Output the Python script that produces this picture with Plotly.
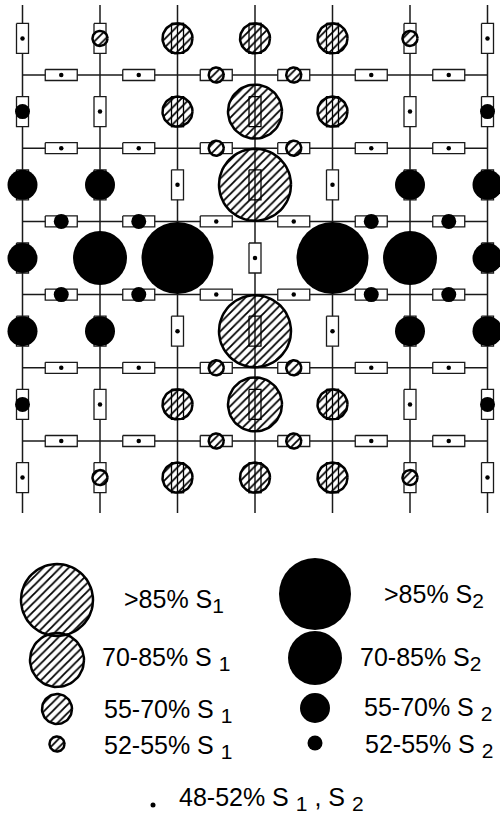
import numpy as np
import plotly.graph_objects as go

# ---- data: state of every bond in the lattice ----
# "d" = 48-52% (dot), "h52".."h85" = S1 (hatched), "f52".."f85" = S2 (filled)
vert_states = [
    ["d", "h52", "h55", "h55", "h55", "h52", "d"],
    ["f52", "d", "h55", "h70", "h55", "d", "f52"],
    ["f55", "f55", "d", "h85", "d", "f55", "f55"],
    ["f55", "f70", "f85", "d", "f85", "f70", "f55"],
    ["f55", "f55", "d", "h85", "d", "f55", "f55"],
    ["f52", "d", "h55", "h70", "h55", "d", "f52"],
    ["d", "h52", "h55", "h55", "h55", "h52", "d"],
]
horiz_states = [
    ["d", "d", "h52", "h52", "d", "d"],
    ["d", "d", "h52", "h52", "d", "d"],
    ["f52", "f52", "d", "d", "f52", "f52"],
    ["f52", "f52", "d", "d", "f52", "f52"],
    ["d", "d", "h52", "h52", "d", "d"],
    ["d", "d", "h52", "h52", "d", "d"],
]
legend_s1 = ["h85", "h70", "h55", "h52"]
legend_s2 = ["f85", "f70", "f55", "f52"]
SUB = "<sub><span style='font-size:21px'>%s</span></sub>"
legend_s1_labels = [">85% S" + SUB % "1", "70-85% S " + SUB % "1",
                    "55-70% S " + SUB % "1", "52-55% S " + SUB % "1"]
legend_s2_labels = [">85% S" + SUB % "2", "70-85% S" + SUB % "2",
                    "55-70% S " + SUB % "2", "52-55% S " + SUB % "2"]
legend_dot_label = "48-52% S " + SUB % "1" + " , S " + SUB % "2"

# ---- layout / geometry ----
X0, DX = 22.5, 77.5
Y0, DY = 75.0, 73.2
NV = 7   # vertical lines
NH = 6   # horizontal lines
RADIUS = {"52": 7.5, "55": 15, "70": 27, "85": 36}
VR = (6, 15)     # vertical rect half sizes
HR = (16, 5.5)   # horizontal rect half sizes
INK = "#000000"

theta = np.linspace(0, 2 * np.pi, 73)


def circle(cx, cy, r):
    return list(cx + r * np.cos(theta)) + [None], list(cy + r * np.sin(theta)) + [None]


def rect(cx, cy, hw, hh):
    return ([cx - hw, cx + hw, cx + hw, cx - hw, cx - hw, None],
            [cy - hh, cy - hh, cy + hh, cy + hh, cy - hh, None])


bonds = []  # (cx, cy, state, halfsizes)
for r, row in enumerate(vert_states):
    for c, s in enumerate(row):
        bonds.append((X0 + c * DX, Y0 + (r - 0.5) * DY, s, VR))
for r, row in enumerate(horiz_states):
    for c, s in enumerate(row):
        bonds.append((X0 + (c + 0.5) * DX, Y0 + r * DY, s, HR))

fig = go.Figure()

# lattice lines
lx, ly = [], []
ytop, ybot = 5, 513
for i in range(NV):
    x = X0 + i * DX
    lx += [x, x, None]
    ly += [ytop, ybot, None]
for j in range(NH):
    y = Y0 + j * DY
    lx += [X0, X0 + (NV - 1) * DX, None]
    ly += [y, y, None]
fig.add_trace(go.Scatter(x=lx, y=ly, mode="lines", line=dict(color="#1a1a1a", width=1.5), hoverinfo="skip"))

# rectangles
rx, ry = [], []
for cx, cy, s, (hw, hh) in bonds:
    a, b = rect(cx, cy, hw, hh)
    rx += a
    ry += b
fig.add_trace(go.Scatter(x=rx, y=ry, mode="lines", fill="toself", fillcolor="white",
                         line=dict(color="#1a1a1a", width=1.3), hoverinfo="skip"))

# dots
dx_ = [b[0] for b in bonds if b[2] == "d"]
dy_ = [b[1] for b in bonds if b[2] == "d"]
fig.add_trace(go.Scatter(x=dx_, y=dy_, mode="markers",
                         marker=dict(color=INK, size=4.5, opacity=1), hoverinfo="skip"))


# hatched circles (S1)
def hatched(points):
    hx, hy = [], []
    for cx, cy, r in points:
        a, b = circle(cx, cy, r)
        hx += a
        hy += b
    fig.add_trace(go.Scatter(x=hx, y=hy, mode="lines", fill="toself",
                             fillpattern=dict(shape="/", fgcolor=INK, bgcolor="white", size=6,
                                              solidity=0.3, fgopacity=1),
                             fillcolor="white",
                             line=dict(color=INK, width=2.5), hoverinfo="skip"))


hatched([(cx, cy, RADIUS[s[1:]]) for cx, cy, s, _ in bonds if s.startswith("h")])

# rect outlines visible through larger hatched circles
ox, oy = [], []
for cx, cy, s, (hw, hh) in bonds:
    if s.startswith("h") and s != "h52":
        a, b = rect(cx, cy, hw, hh)
        ox += a
        oy += b
        ox += [cx, cx, None]
        oy += [cy - RADIUS[s[1:]], cy + RADIUS[s[1:]], None]
fig.add_trace(go.Scatter(x=ox, y=oy, mode="lines", line=dict(color=INK, width=1.3), hoverinfo="skip"))

# filled circles (S2)
fx = [b[0] for b in bonds if b[2].startswith("f")]
fy = [b[1] for b in bonds if b[2].startswith("f")]
fs = [2 * RADIUS[b[2][1:]] for b in bonds if b[2].startswith("f")]
fig.add_trace(go.Scatter(x=fx, y=fy, mode="markers",
                         marker=dict(color=INK, size=fs, sizemode="diameter", opacity=1, line=dict(width=0)),
                         hoverinfo="skip"))

# ---- legend (drawn in the plot area) ----
LEG_Y1 = [600, 660, 709, 744]
LEG_Y2 = [594, 658, 708, 743]
L1X, L2X = 57, 315
T1X = [122, 100, 102, 102]
T2X = [382, 358, 362, 363]
hatched([(L1X, y, RADIUS[s[1:]]) for y, s in zip(LEG_Y1, legend_s1)])
fig.add_trace(go.Scatter(x=[L2X] * 4, y=LEG_Y2, mode="markers",
                         marker=dict(color=INK, opacity=1, size=[2 * RADIUS[s[1:]] for s in legend_s2],
                                     line=dict(width=0)),
                         hoverinfo="skip"))
fig.add_trace(go.Scatter(x=[153], y=[805], mode="markers", marker=dict(color=INK, size=5, opacity=1),
                         hoverinfo="skip"))

font = dict(family="Liberation Sans, Arial, sans-serif", size=25, color=INK)
TY1 = [601, 659, 711, 747]
TY2 = [596, 659, 709, 746]
for y, t, x in zip(TY1, legend_s1_labels, T1X):
    fig.add_annotation(x=x, y=y, text=t, showarrow=False, xanchor="left", yanchor="middle", font=font)
for y, t, x in zip(TY2, legend_s2_labels, T2X):
    fig.add_annotation(x=x, y=y, text=t, showarrow=False, xanchor="left", yanchor="middle", font=font)
fig.add_annotation(x=177, y=799, text=legend_dot_label, showarrow=False, xanchor="left", yanchor="middle",
                   font=font)

fig.update_layout(
    width=500, height=820, margin=dict(l=0, r=0, t=0, b=0),
    paper_bgcolor="white", plot_bgcolor="white", showlegend=False,
    xaxis=dict(range=[0, 500], visible=False, fixedrange=True),
    yaxis=dict(range=[820, 0], visible=False, fixedrange=True, scaleanchor="x", scaleratio=1),
)
fig.write_html("out.html", config={"displayModeBar": False},
               post_script="document.body.style.margin='0';document.body.style.overflow='hidden';")
